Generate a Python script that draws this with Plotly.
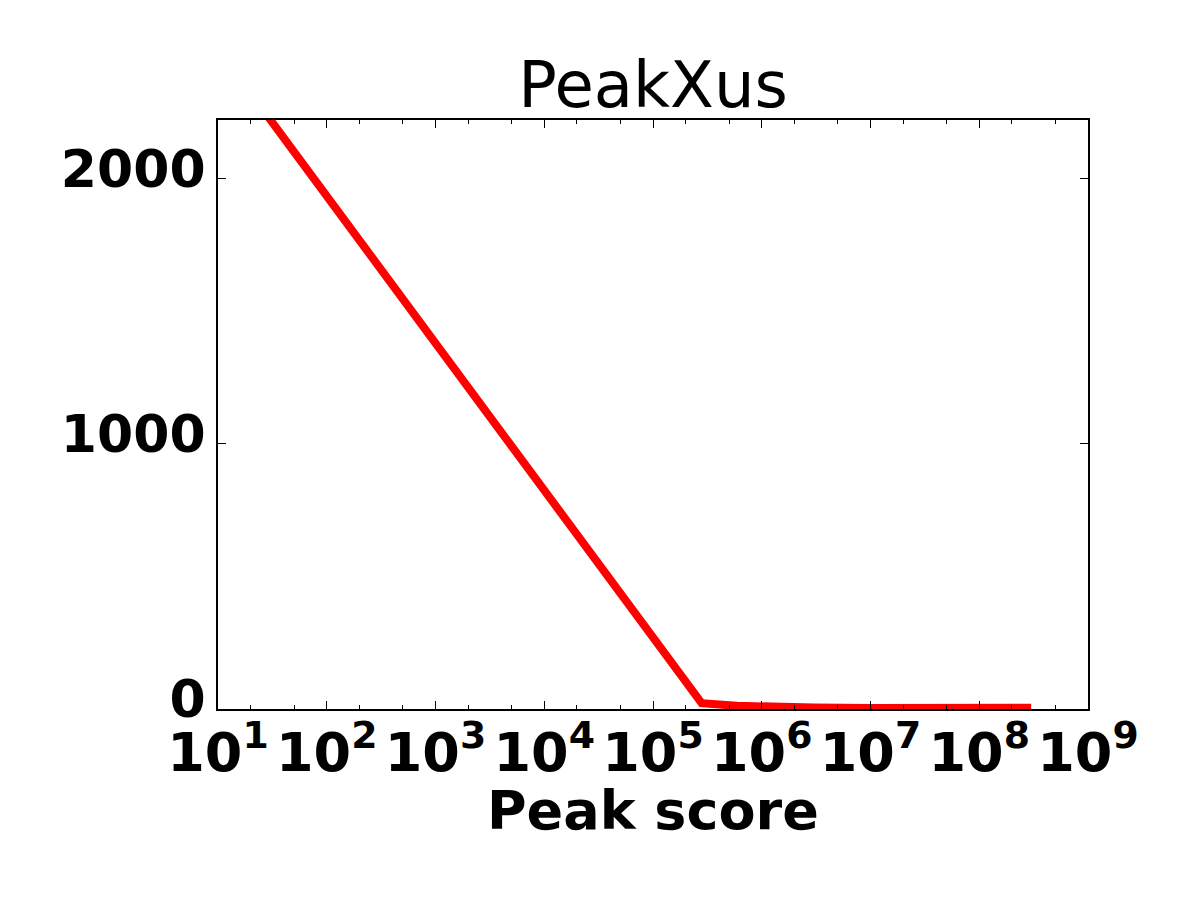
import plotly.graph_objects as go

# peak score threshold vs number of peaks
peak_score = [10, 2.8e5, 5.9e5, 1e6, 3e6, 1e7, 3e7, 1e8, 2.6e8, 3.0e8]
n_peaks = [2490, 22, 12, 9, 6, 4, 3, 2, 2, 5]

x_tickvals = [10 ** k for k in range(1, 10)]
x_ticktext = ["10<sup>%d</sup>" % k for k in range(1, 10)]
y_tickvals = [0, 1000, 2000]

fig = go.Figure()

fig.add_trace(go.Scatter(
    x=peak_score,
    y=n_peaks,
    mode="lines",
    line=dict(color="#ff0000", width=8),
    hoverinfo="none",
))

# page body has an 8px margin, so the figure is a bit smaller than the window
fig.update_layout(
    width=1184,
    height=884,
    margin=dict(l=210, r=104, t=112, b=183),
    plot_bgcolor="white",
    paper_bgcolor="white",
    showlegend=False,
    font=dict(family="DejaVu Sans", color="black"),
    title=dict(
        text="PeakXus",
        font=dict(size=64, family="DejaVu Sans"),
        x=0.5, xref="paper", xanchor="center",
        y=1, yref="paper", yanchor="bottom",
        pad=dict(b=13),
    ),
    # x axis label placed by hand so it sits closer to the tick labels
    annotations=[dict(
        text="<b>Peak score</b>",
        font=dict(size=54, family="DejaVu Sans"),
        x=0.5, xref="paper", xanchor="center",
        y=0, yref="paper", yanchor="top",
        yshift=-68, showarrow=False,
    )],
)

fig.update_xaxes(
    type="log",
    range=[1, 9],
    tickvals=x_tickvals,
    ticktext=x_ticktext,
    tickfont=dict(size=54, family="DejaVu Sans", weight="bold"),
    ticks="inside", ticklen=8, tickwidth=1, tickcolor="black",
    ticklabelstandoff=-5,
    minor=dict(ticks="inside", ticklen=4, tickwidth=1, tickcolor="black",
               showgrid=False),
    showline=True, linecolor="black", linewidth=2,
    mirror="allticks",
    showgrid=False, zeroline=False,
)

fig.update_yaxes(
    range=[0, 2222],
    tickvals=y_tickvals,
    tickfont=dict(size=52, family="DejaVu Sans", weight="bold"),
    ticks="inside", ticklen=8, tickwidth=1, tickcolor="black",
    ticklabelstandoff=0,
    ticklabelshift=-10,
    showline=True, linecolor="black", linewidth=2,
    mirror="allticks",
    showgrid=False, zeroline=False,
)

fig.write_html("out.html")
